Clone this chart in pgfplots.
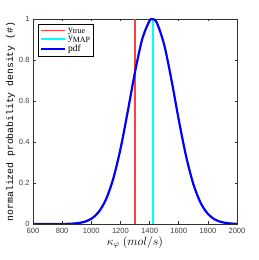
\documentclass[border=0pt]{standalone}
\usepackage{pgfplots}
\pgfplotsset{compat=1.18}
\usepackage{fontspec}
\setmainfont{Liberation Sans}
\newfontfamily\seriffont{Liberation Serif}
\newfontfamily\monofont{Liberation Mono}
\definecolor{truered}{rgb}{1,0.25,0.25}
\definecolor{mapcyan}{rgb}{0,1,1}
\newcommand{\ysub}[1]{y\raisebox{-1.6pt}{\fontsize{8}{8}\selectfont #1}}
\begin{document}
\begin{tikzpicture}
\useasboundingbox (-33bp,-36bp) rectangle (226bp,224bp);
\begin{axis}[
  at={(0,0)}, anchor=south west,
  scale only axis, width=204bp, height=205bp,
  xmin=600, xmax=2000, ymin=0, ymax=1,
  xtick={600,800,...,2000}, ytick={0,0.2,...,1},
  tick align=inside, major tick length=2.5bp,
  tick style={black!80, line width=0.5pt},
  axis line style={black!80, line width=0.6pt},
  /pgf/number format/assume math mode=true,
  /pgf/number format/1000 sep={},
  ticklabel style={font=\fontsize{7.6}{9}\selectfont, text=black!75},
  xticklabel style={yshift=-0.5bp},
  xlabel={$\kappa_{\varphi}\ (mol/s)$},
  xlabel style={font=\fontsize{11.5}{13}\selectfont, yshift=4bp},
  ylabel={\monofont normalized probability density (\#)},
  ylabel style={font=\fontsize{9.8}{11}\selectfont, yshift=-3bp},
  legend style={at={(5bp,200bp)}, anchor=north west, draw=black, line width=0.8pt,
    font=\seriffont\fontsize{9.5}{10}\selectfont, inner xsep=1.5pt, inner ysep=1.5pt,
    row sep=-1.5pt, cells={anchor=west}},
  legend image code/.code={\draw[#1] (0bp,0bp) -- (24bp,0bp);},
  legend cell align=left,
]
\addplot[draw=truered, line width=1.2pt] coordinates {(1300,0) (1300,1)};
\addlegendentry{\ysub{true}}
\addplot[draw=mapcyan, line width=1.4pt] coordinates {(1424,0) (1424,1)};
\addlegendentry{\ysub{MAP}}
\addplot[draw=blue, line width=2.2pt, smooth] coordinates {
(600,0) (700,0.00002) (800,0.00034) (850,0.00116) (900,0.0036) (950,0.0101)
(1000,0.0254) (1050,0.0579) (1100,0.1187) (1150,0.2193) (1200,0.3652)
(1250,0.548) (1300,0.741) (1350,0.903) (1400,0.9917) (1420,1)
(1450,0.9814) (1500,0.8753) (1550,0.7035) (1600,0.5095) (1650,0.3326)
(1700,0.1956) (1750,0.1037) (1800,0.0495) (1850,0.0213) (1900,0.00827)
(1950,0.0029) (2000,0.00091)};
\addlegendentry{pdf}
\end{axis}
\end{tikzpicture}
\end{document}
